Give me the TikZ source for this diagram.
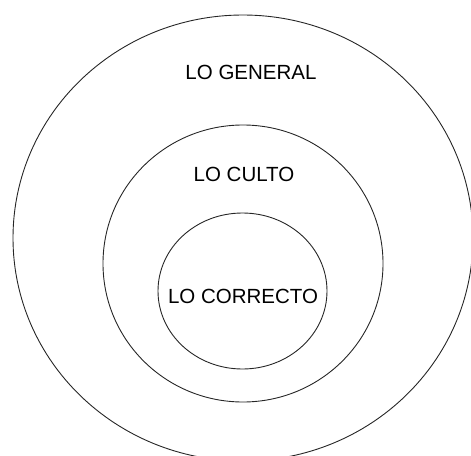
\documentclass[tikz,border=0pt]{standalone}
\usepackage{fontspec}
\setmainfont{Liberation Sans}
\usepackage{tikz}

\begin{document}
\begin{tikzpicture}[x = 1pt, y = 1pt, font=\fontsize{20.5}{24}\selectfont]
	\begin{scope}[yscale = -1]
		\useasboundingbox (0 ,0) rectangle (471 ,455);
		\clip (0 ,0) rectangle (471 ,455);
		\draw [line width=0.9pt,black!85] (243 ,238) ellipse [x radius=230, y radius=223]; 
		\draw [line width=0.9pt,black!85] (243 ,263.5) ellipse [x radius=140, y radius=138.5]; 
		\draw [line width=0.9pt,black!85] (242.5 ,291) ellipse [x radius=84.5, y radius=78]; 
		\node [anchor=base] (general) at (251 ,79.6) {LO GENERAL};
		\node [anchor=base] (culto) at (244 ,181.3) {LO CULTO};
		\node [anchor=base] (correcto) at (243 ,303.3) {LO CORRECTO};
	\end{scope}
\end{tikzpicture}
\end{document}
